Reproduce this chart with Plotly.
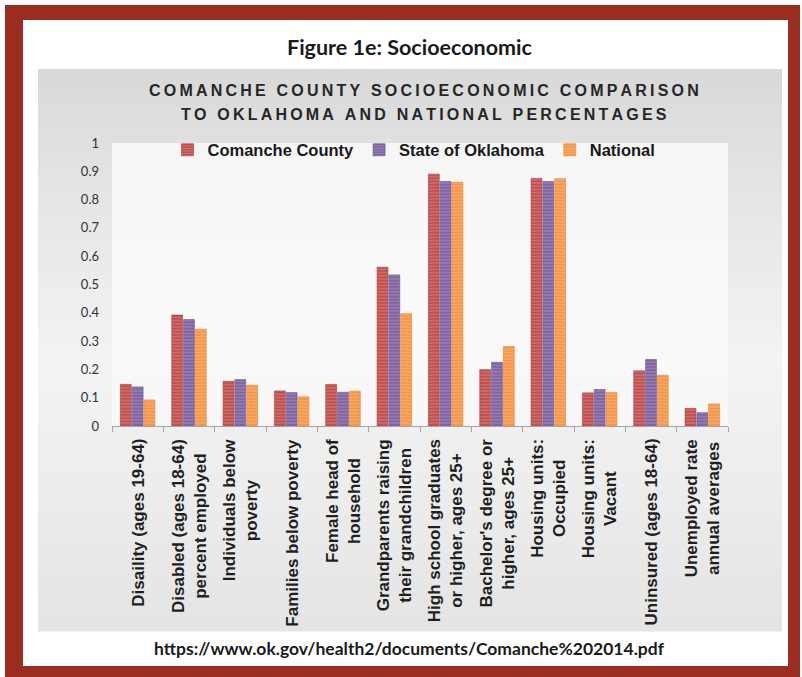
import plotly.graph_objects as go

# ---------------- data ----------------
categories = [
    "Disaility (ages 19-64)",
    "Disabled (ages 18-64) percent employed",
    "Individuals below poverty",
    "Families below poverty",
    "Female head of household",
    "Grandparents raising their grandchildren",
    "High school graduates or higher, ages 25+",
    "Bachelor's degree or higher, ages 25+",
    "Housing units: Occupied",
    "Housing units: Vacant",
    "Uninsured (ages 18-64)",
    "Unemployed rate annual averages",
]
tick_labels = [
    "Disaility (ages 19-64)",
    "Disabled (ages 18-64)<br>percent employed",
    "Individuals below<br>poverty",
    "Families below poverty",
    "Female head of<br>household",
    "Grandparents raising<br>their grandchildren",
    "High school graduates<br>or higher, ages 25+",
    "Bachelor's degree or<br>higher, ages 25+",
    "Housing units:<br>Occupied",
    "Housing units:<br>Vacant",
    "Uninsured (ages 18-64)",
    "Unemployed rate<br>annual averages",
]
comanche = [0.147, 0.392, 0.158, 0.124, 0.147, 0.561, 0.890, 0.199, 0.875, 0.117, 0.195, 0.062]
oklahoma = [0.138, 0.376, 0.164, 0.118, 0.119, 0.534, 0.864, 0.225, 0.864, 0.129, 0.235, 0.047]
national = [0.092, 0.342, 0.144, 0.103, 0.123, 0.397, 0.861, 0.281, 0.874, 0.118, 0.179, 0.078]
series_names = ["Comanche County", "State of Oklahoma", "National"]
y_ticks = [0, 0.1, 0.2, 0.3, 0.4, 0.5, 0.6, 0.7, 0.8, 0.9, 1]
y_tick_text = ["0", "0.1", "0.2", "0.3", "0.4", "0.5", "0.6", "0.7", "0.8", "0.9", "1"]

fig_title = "Figure 1e: Socioeconomic"
chart_title_1 = "COMANCHE COUNTY SOCIOECONOMIC COMPARISON"
chart_title_2 = "TO OKLAHOMA AND NATIONAL PERCENTAGES"
source_url = "https://www.ok.gov/health2/documents/Comanche%202014.pdf"

# ---------------- layout geometry ----------------
W, H = 802, 677
ML, MR, MT, MB = 112, 74, 143, 251
PW = W - ML - MR
PH = H - MT - MB


def px(x):
    return (x - ML) / PW


def py(y):
    return (H - MB - y) / PH


def spaced(s):
    return "\u2009".join(list(s))


def lerp_color(c1, c2, t):
    a = [int(c1[i:i + 2], 16) for i in (1, 3, 5)]
    b = [int(c2[i:i + 2], 16) for i in (1, 3, 5)]
    return "#" + "".join(f"{round(a[k] + (b[k] - a[k]) * t):02x}" for k in range(3))


def gradient(stops, y):
    for (y0, c0), (y1, c1) in zip(stops, stops[1:]):
        if y0 <= y <= y1:
            return lerp_color(c0, c1, (y - y0) / (y1 - y0) if y1 > y0 else 0)
    return stops[-1][1]


def rect(x0, y0, x1, y1, color, line=None):
    return dict(type="rect", xref="paper", yref="paper", layer="below",
                x0=px(x0), x1=px(x1), y0=py(y1), y1=py(y0),
                fillcolor=color, line=dict(width=0) if line is None else line)


shapes = []
shapes.append(rect(5, 5, 800, 677, "#9b2c20"))
shapes.append(rect(23, 20, 788, 666, "#ffffff"))

# gray chart area gradient
gstops = [(69, "#d9d9d9"), (200, "#e6e6e6"), (360, "#f3f3f3"), (500, "#ececec"), (631, "#e4e4e4")]
n = 56
for i in range(n):
    y0 = 69 + (631 - 69) * i / n
    y1 = 69 + (631 - 69) * (i + 1) / n
    shapes.append(rect(38, y0, 782, y1 + 0.6, gradient(gstops, (y0 + y1) / 2)))

# plot area
pstops = [(143, "#f6f6f6"), (300, "#fafafa"), (426, "#f7f7f7")]
n2 = 20
for i in range(n2):
    y0 = 143 + (426 - 143) * i / n2
    y1 = 143 + (426 - 143) * (i + 1) / n2
    shapes.append(rect(112, y0, 728, y1 + 0.6, gradient(pstops, (y0 + y1) / 2)))

# ---------------- traces ----------------
base_colors = ["#c0504d", "#8064a2", "#f79646"]
stripe_colors = ["#e49593", "#b3a0cf", "#fcc594"]
edge_colors = ["#a33d3a", "#6a5190", "#e0843a"]
values = [comanche, oklahoma, national]

fig = go.Figure()
for name, vals, bc, sc, ec in zip(series_names, values, base_colors, stripe_colors, edge_colors):
    fig.add_trace(go.Bar(
        x=categories, y=vals, name=name,
        marker=dict(color=bc, line=dict(color=ec, width=0.6),
                    pattern=dict(shape="-", fgcolor=sc, bgcolor=bc, size=3.2, solidity=0.38)),
    ))

annotations = [
    dict(text=fig_title, x=px(409), y=py(47), xref="paper", yref="paper", showarrow=False,
         xanchor="center", yanchor="middle",
         font=dict(family="Lato", size=21.5, color="#1a1a1a", weight="bold")),
    dict(text=spaced(chart_title_1), x=px(424), y=py(90), xref="paper", yref="paper", showarrow=False,
         xanchor="center", yanchor="middle",
         font=dict(family="Liberation Sans", size=16, color="#262626", weight="bold")),
    dict(text=spaced(chart_title_2), x=px(424), y=py(115), xref="paper", yref="paper", showarrow=False,
         xanchor="center", yanchor="middle",
         font=dict(family="Liberation Sans", size=16, color="#262626", weight="bold")),
    dict(text=source_url, x=px(409), y=py(648), xref="paper", yref="paper", showarrow=False,
         xanchor="center", yanchor="middle",
         font=dict(family="Lato", size=17.5, color="#1a1a1a", weight="bold")),
]
for cat, lab in zip(categories, tick_labels):
    annotations.append(dict(
        text=lab, x=cat, xref="x", y=py(437), yref="paper", yanchor="top", xanchor="center",
        textangle=-90, align="center", showarrow=False,
        font=dict(family="Liberation Sans", size=17, color="#1f1f1f", weight="bold")))

fig.update_layout(
    width=W, height=H,
    margin=dict(l=ML, r=MR, t=MT, b=MB, pad=0),
    paper_bgcolor="#ffffff", plot_bgcolor="rgba(0,0,0,0)",
    barmode="group", bargap=0.31, bargroupgap=0.08,
    showlegend=True,
    legend=dict(orientation="h", x=px(414), xanchor="center", y=py(150), yanchor="middle",
                bgcolor="rgba(0,0,0,0)", font=dict(family="Liberation Sans", size=16.5, color="#1a1a1a",
                                                   weight="bold"),
                itemwidth=30, tracegroupgap=0),
    shapes=shapes,
    annotations=annotations,
    xaxis=dict(type="category", showticklabels=False, showline=True, linecolor="#a6a6a6", linewidth=1.2,
               ticks="outside", tickson="boundaries", ticklen=5, tickcolor="#a6a6a6", showgrid=False,
               zeroline=False, fixedrange=True),
    yaxis=dict(range=[0, 1], tickvals=y_ticks, ticktext=y_tick_text, showgrid=False, zeroline=False,
               showline=False, ticks="", ticklabelstandoff=12,
               tickfont=dict(family="Lato", size=13, color="#333333"), fixedrange=True),
)

fig.write_html("out.html")
